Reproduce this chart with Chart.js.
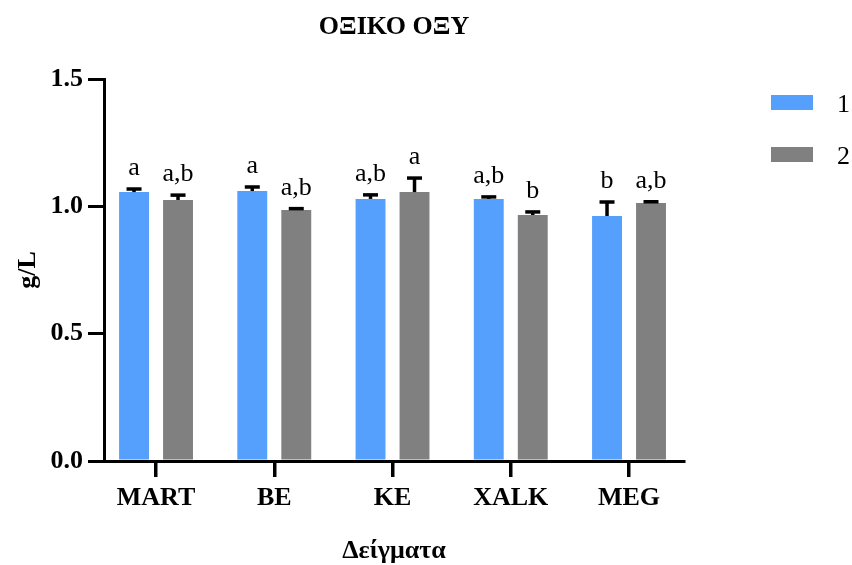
<!DOCTYPE html>
<html>
<head>
<meta charset="utf-8">
<script src="https://cdn.jsdelivr.net/npm/chart.js@4.4.1/dist/chart.umd.min.js"></script>
<style>
  html, body { margin: 0; padding: 0; background: #fff; }
  #wrap { width: 852px; height: 565px; position: relative; }
</style>
</head>
<body>
<div id="wrap"><canvas id="chart" width="852" height="565"></canvas></div>
<script>
// Acetic acid (g/L) per sample, two series with SEM and significance letters
const categories = ['MART', 'BE', 'KE', 'XALK', 'MEG'];
const seriesNames = ['1', '2'];
const series1 = [1.056, 1.060, 1.029, 1.029, 0.962];
const series2 = [1.025, 0.986, 1.056, 0.966, 1.013];
const err1 = [0.012, 0.016, 0.016, 0.008, 0.055];
const err2 = [0.019, 0.005, 0.055, 0.012, 0.005];
const letters1 = ['a', 'a', 'a,b', 'a,b', 'b'];
const letters2 = ['a,b', 'a,b', 'a', 'b', 'a,b'];
const yTicks = [0, 0.5, 1.0, 1.5];

const titleText = 'ΟΞΙΚΟ ΟΞΥ';
const xTitle = 'Δείγματα';
const yTitle = 'g/L';

const BLUE = 'rgb(85,160,252)';
const GREY = 'rgb(128,128,128)';
const SERIF = "'Liberation Serif', 'Times New Roman', serif";

const toPoints = vals => vals.map((v, i) => ({ x: i, y: v }));

const decorations = {
  id: 'decorations',
  afterDatasetsDraw(chart) {
    const ctx = chart.ctx;
    const ys = chart.scales.y;
    const errs = [err1, err2];
    const letters = [letters1, letters2];
    ctx.save();
    chart.data.datasets.forEach((ds, di) => {
      const meta = chart.getDatasetMeta(di);
      meta.data.forEach((bar, i) => {
        const v = ds.data[i].y;
        const top = ys.getPixelForValue(v + errs[di][i]);
        // upward error bar with cap
        ctx.strokeStyle = '#000';
        ctx.lineWidth = 3.5;
        ctx.beginPath();
        ctx.moveTo(bar.x, bar.y);
        ctx.lineTo(bar.x, top);
        ctx.stroke();
        ctx.beginPath();
        ctx.moveTo(bar.x - 7.5, top);
        ctx.lineTo(bar.x + 7.5, top);
        ctx.stroke();
        // significance letters
        ctx.fillStyle = '#000';
        ctx.font = '26px ' + SERIF;
        ctx.textAlign = 'center';
        ctx.textBaseline = 'alphabetic';
        ctx.fillText(letters[di][i], bar.x, top - 14);
      });
    });
    ctx.restore();
  },
  afterDraw(chart) {
    const ctx = chart.ctx;
    const area = chart.chartArea;
    const cx = (area.left + area.right) / 2;
    ctx.save();
    ctx.fillStyle = '#000';
    ctx.textAlign = 'center';
    ctx.textBaseline = 'alphabetic';
    ctx.font = 'bold 26px ' + SERIF;
    ctx.fillText(titleText, cx, 34);
    ctx.fillText(xTitle, cx, 558);
    // rotated y-axis title
    ctx.save();
    ctx.translate(35, (area.top + area.bottom) / 2);
    ctx.rotate(-Math.PI / 2);
    ctx.fillText(yTitle, 0, 0);
    ctx.restore();
    // legend
    ctx.font = '26px ' + SERIF;
    ctx.textAlign = 'left';
    chart.data.datasets.forEach((ds, i) => {
      const y0 = 95 + i * 52;
      ctx.fillStyle = ds.backgroundColor;
      ctx.fillRect(771, y0, 42, 15);
      ctx.fillStyle = '#000';
      ctx.fillText(ds.label, 837, y0 + 17);
    });
    ctx.restore();
  }
};

new Chart(document.getElementById('chart'), {
  type: 'bar',
  data: {
    datasets: [
      { label: seriesNames[0], data: toPoints(series1), backgroundColor: BLUE,
        categoryPercentage: 0.744, barPercentage: 0.68 },
      { label: seriesNames[1], data: toPoints(series2), backgroundColor: GREY,
        categoryPercentage: 0.744, barPercentage: 0.68 }
    ]
  },
  options: {
    responsive: false,
    animation: false,
    devicePixelRatio: 1,
    layout: { padding: { left: 0, right: 168, top: 79, bottom: 0 } },
    plugins: {
      legend: { display: false },
      title: { display: false },
      tooltip: { enabled: false }
    },
    scales: {
      x: {
        type: 'linear',
        offset: false,
        min: -0.44,
        max: 4.465,
        afterBuildTicks(scale) {
          scale.ticks = categories.map((_, i) => ({ value: i }));
        },
        afterFit(scale) {
          scale.height = 104;
          scale.paddingLeft = 0;
          scale.paddingRight = 0;
        },
        ticks: {
          callback: v => categories[v],
          color: '#000',
          font: { family: SERIF, size: 26, weight: 'bold' },
          padding: 6,
          maxRotation: 0,
          autoSkip: false
        },
        grid: {
          offset: false,
          drawOnChartArea: false,
          drawTicks: true,
          tickLength: 16,
          color: '#000',
          lineWidth: 3.5
        },
        border: { display: true, color: '#000', width: 3 }
      },
      y: {
        min: 0,
        max: 1.5,
        afterBuildTicks(scale) {
          scale.ticks = yTicks.map(v => ({ value: v }));
        },
        afterFit(scale) {
          scale.width = 104;
          scale.paddingTop = 0;
          scale.paddingBottom = 0;
        },
        ticks: {
          callback: v => Number(v).toFixed(1),
          color: '#000',
          font: { family: SERIF, size: 26, weight: 'bold' },
          padding: 5
        },
        grid: {
          drawOnChartArea: false,
          drawTicks: true,
          tickLength: 16,
          color: '#000',
          lineWidth: 3
        },
        border: { display: true, color: '#000', width: 3 }
      }
    }
  },
  plugins: [decorations]
});
</script>
</body>
</html>
